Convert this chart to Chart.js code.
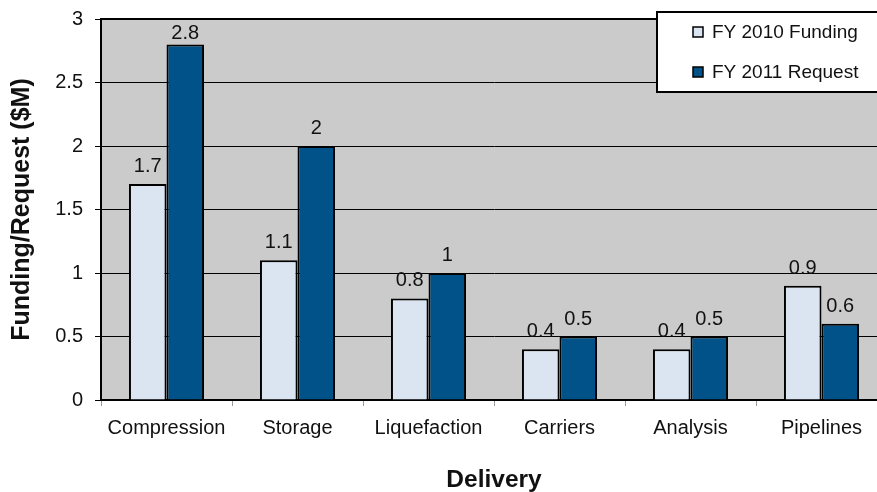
<!DOCTYPE html>
<html>
<head>
<meta charset="utf-8">
<script src="https://cdn.jsdelivr.net/npm/chart.js@4.4.0/dist/chart.umd.min.js"></script>
<style>
  html, body { margin: 0; padding: 0; background: #fff; overflow: hidden; }
  #wrap { width: 890px; height: 492px; }
</style>
</head>
<body>
<div id="wrap"><canvas id="chart" width="890" height="492"></canvas></div>
<script>
// === DATOS ===
const categorias = ['Compression', 'Storage', 'Liquefaction', 'Carriers', 'Analysis', 'Pipelines'];
const fondos2010 = [1.7, 1.1, 0.8, 0.4, 0.4, 0.9];
const pedido2011 = [2.8, 2.0, 1.0, 0.5, 0.5, 0.6];
const etiquetasSerie = ['FY 2010 Funding', 'FY 2011 Request'];
const ejeY = { min: 0, max: 3, paso: 0.5 };

const FUENTE = '"Liberation Sans", Arial, sans-serif';
const colores = ['#dbe5f1', '#005288'];

// fondo gris del area de trazado
const fondoPlot = {
  id: 'fondoPlot',
  beforeDraw(chart) {
    const { ctx, chartArea: a } = chart;
    ctx.save();
    ctx.fillStyle = '#cbcbcb';
    ctx.fillRect(a.left, a.top, a.right - a.left, a.bottom - a.top);
    ctx.restore();
  },
  afterDatasetsDraw(chart) {
    const { ctx, chartArea: a } = chart;
    ctx.save();
    ctx.strokeStyle = '#000';
    ctx.lineWidth = 2;
    ctx.beginPath();
    ctx.moveTo(a.left, a.top);
    ctx.lineTo(a.right, a.top);
    ctx.stroke();
    ctx.restore();
  }
};

// valores encima de cada barra
const valores = {
  id: 'valores',
  afterDatasetsDraw(chart) {
    const { ctx, chartArea: a } = chart;
    ctx.save();
    ctx.font = '20px ' + FUENTE;
    ctx.fillStyle = '#111';
    ctx.textAlign = 'center';
    ctx.textBaseline = 'alphabetic';
    chart.data.datasets.forEach((ds, i) => {
      chart.getDatasetMeta(i).data.forEach((bar, j) => {
        const y = Math.max(bar.y - 12, a.top + 20);
        ctx.fillText(String(ds.data[j]), bar.x, y);
      });
    });
    ctx.restore();
  }
};

// leyenda en caja blanca arriba a la derecha
const leyenda = {
  id: 'leyenda',
  afterDraw(chart) {
    const { ctx } = chart;
    const x = 657, y = 12, w = 240, h = 80;
    ctx.save();
    ctx.fillStyle = '#fff';
    ctx.fillRect(x, y, w, h);
    ctx.strokeStyle = '#000';
    ctx.lineWidth = 2;
    ctx.strokeRect(x, y, w, h);
    ctx.font = '19px ' + FUENTE;
    ctx.textBaseline = 'middle';
    chart.data.datasets.forEach((ds, i) => {
      const cy = 32 + i * 40;
      ctx.fillStyle = ds.backgroundColor;
      ctx.fillRect(693, cy - 5, 10, 10);
      ctx.lineWidth = 1.5;
      ctx.strokeStyle = '#000';
      ctx.strokeRect(693, cy - 5, 10, 10);
      ctx.fillStyle = '#111';
      ctx.fillText(ds.label, 712, cy + 1);
    });
    ctx.restore();
  }
};

new Chart(document.getElementById('chart'), {
  type: 'bar',
  data: {
    labels: categorias,
    datasets: [
      { label: etiquetasSerie[0], data: fondos2010, backgroundColor: colores[0] },
      { label: etiquetasSerie[1], data: pedido2011, backgroundColor: colores[1] }
    ]
  },
  options: {
    responsive: false,
    devicePixelRatio: 1,
    animation: false,
    layout: { padding: { top: 19, right: 3, left: 0, bottom: 0 } },
    datasets: {
      bar: {
        categoryPercentage: 0.573,
        barPercentage: 1,
        borderColor: '#000',
        borderWidth: 2
      }
    },
    plugins: {
      legend: { display: false },
      tooltip: { enabled: false }
    },
    scales: {
      x: {
        grid: { offset: true, drawOnChartArea: false, color: '#999', tickLength: 6 },
        border: { color: '#000', width: 2 },
        ticks: { font: { family: FUENTE, size: 20 }, color: '#111', padding: 10, maxRotation: 0 },
        title: {
          display: true, text: 'Delivery', color: '#111',
          font: { family: FUENTE, size: 24.5, weight: 'bold', lineHeight: 1 },
          padding: 0
        },
        afterFit: s => { s.height = 92; }
      },
      y: {
        min: ejeY.min,
        max: ejeY.max,
        ticks: {
          stepSize: ejeY.paso,
          font: { family: FUENTE, size: 20 },
          color: '#111',
          padding: 12,
          callback: v => String(v)
        },
        grid: { color: '#000', lineWidth: 1, tickLength: 6 },
        border: { color: '#000', width: 2 },
        title: {
          display: true, text: 'Funding/Request ($M)', color: '#111',
          font: { family: FUENTE, size: 25, weight: 'bold', lineHeight: 1 },
          padding: { top: 10, bottom: 0 }
        },
        afterFit: s => { s.width = 101; s.paddingTop = 0; s.paddingBottom = 0; }
      }
    }
  },
  plugins: [fondoPlot, valores, leyenda]
});
</script>
</body>
</html>
